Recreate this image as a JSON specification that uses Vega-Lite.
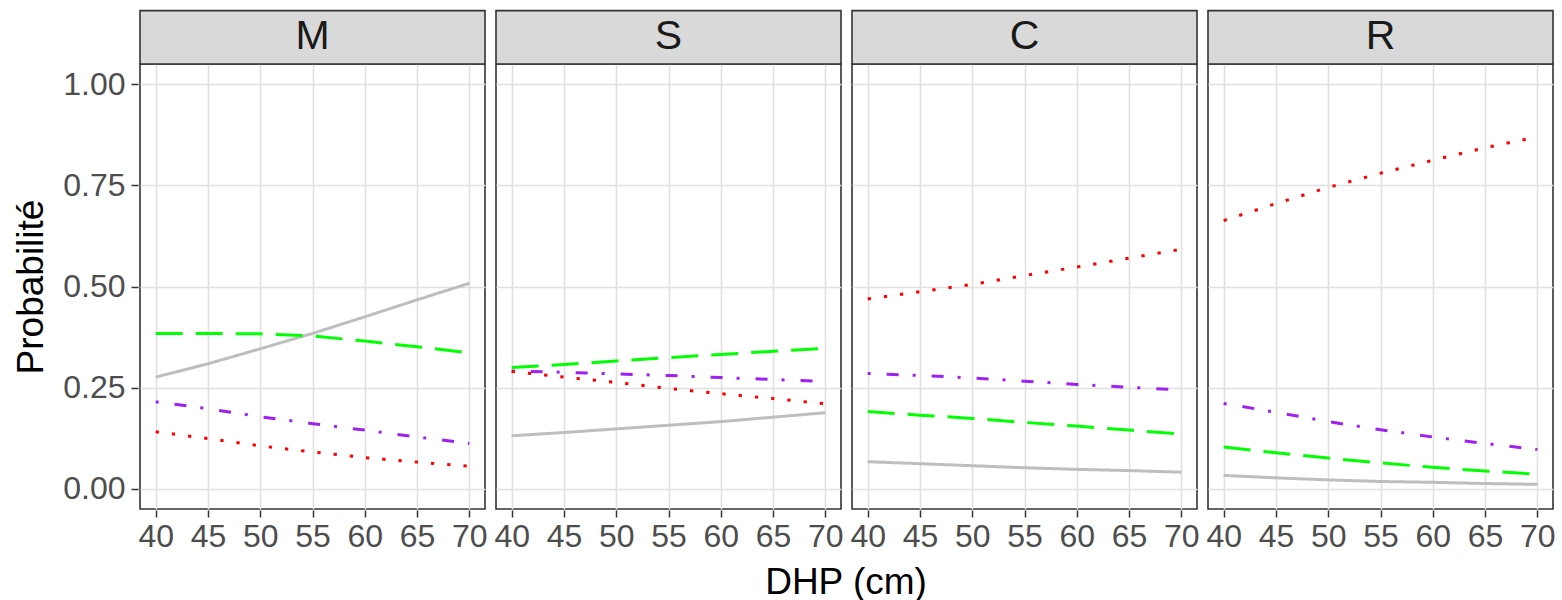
{
  "$schema": "https://vega.github.io/schema/vega-lite/v6.json",
  "padding": {"left": 12, "top": 9, "right": 8, "bottom": 4},
  "background": "white",
  "data": {"values": [
    {"panel":"M","series":"grey","dhp":40,"p":0.276},{"panel":"M","series":"grey","dhp":45,"p":0.309},{"panel":"M","series":"grey","dhp":50,"p":0.346},{"panel":"M","series":"grey","dhp":55,"p":0.384},{"panel":"M","series":"grey","dhp":60,"p":0.425},{"panel":"M","series":"grey","dhp":65,"p":0.467},{"panel":"M","series":"grey","dhp":70,"p":0.508},
    {"panel":"M","series":"green","dhp":40,"p":0.384},{"panel":"M","series":"green","dhp":45,"p":0.384},{"panel":"M","series":"green","dhp":50,"p":0.383},{"panel":"M","series":"green","dhp":55,"p":0.378},{"panel":"M","series":"green","dhp":60,"p":0.365},{"panel":"M","series":"green","dhp":65,"p":0.351},{"panel":"M","series":"green","dhp":70,"p":0.336},
    {"panel":"M","series":"purple","dhp":40,"p":0.215},{"panel":"M","series":"purple","dhp":45,"p":0.198},{"panel":"M","series":"purple","dhp":50,"p":0.178},{"panel":"M","series":"purple","dhp":55,"p":0.161},{"panel":"M","series":"purple","dhp":60,"p":0.145},{"panel":"M","series":"purple","dhp":65,"p":0.128},{"panel":"M","series":"purple","dhp":70,"p":0.112},
    {"panel":"M","series":"red","dhp":40,"p":0.141},{"panel":"M","series":"red","dhp":45,"p":0.124},{"panel":"M","series":"red","dhp":50,"p":0.106},{"panel":"M","series":"red","dhp":55,"p":0.091},{"panel":"M","series":"red","dhp":60,"p":0.077},{"panel":"M","series":"red","dhp":65,"p":0.066},{"panel":"M","series":"red","dhp":70,"p":0.056},
    {"panel":"S","series":"grey","dhp":40,"p":0.131},{"panel":"S","series":"grey","dhp":45,"p":0.139},{"panel":"S","series":"grey","dhp":50,"p":0.148},{"panel":"S","series":"grey","dhp":55,"p":0.157},{"panel":"S","series":"grey","dhp":60,"p":0.166},{"panel":"S","series":"grey","dhp":65,"p":0.177},{"panel":"S","series":"grey","dhp":70,"p":0.188},
    {"panel":"S","series":"green","dhp":40,"p":0.300},{"panel":"S","series":"green","dhp":45,"p":0.307},{"panel":"S","series":"green","dhp":50,"p":0.316},{"panel":"S","series":"green","dhp":55,"p":0.324},{"panel":"S","series":"green","dhp":60,"p":0.332},{"panel":"S","series":"green","dhp":65,"p":0.340},{"panel":"S","series":"green","dhp":70,"p":0.347},
    {"panel":"S","series":"purple","dhp":40,"p":0.291},{"panel":"S","series":"purple","dhp":45,"p":0.288},{"panel":"S","series":"purple","dhp":50,"p":0.284},{"panel":"S","series":"purple","dhp":55,"p":0.280},{"panel":"S","series":"purple","dhp":60,"p":0.275},{"panel":"S","series":"purple","dhp":65,"p":0.270},{"panel":"S","series":"purple","dhp":70,"p":0.265},
    {"panel":"S","series":"red","dhp":40,"p":0.290},{"panel":"S","series":"red","dhp":45,"p":0.276},{"panel":"S","series":"red","dhp":50,"p":0.263},{"panel":"S","series":"red","dhp":55,"p":0.248},{"panel":"S","series":"red","dhp":60,"p":0.235},{"panel":"S","series":"red","dhp":65,"p":0.223},{"panel":"S","series":"red","dhp":70,"p":0.210},
    {"panel":"C","series":"grey","dhp":40,"p":0.067},{"panel":"C","series":"grey","dhp":45,"p":0.062},{"panel":"C","series":"grey","dhp":50,"p":0.057},{"panel":"C","series":"grey","dhp":55,"p":0.052},{"panel":"C","series":"grey","dhp":60,"p":0.048},{"panel":"C","series":"grey","dhp":65,"p":0.045},{"panel":"C","series":"grey","dhp":70,"p":0.041},
    {"panel":"C","series":"green","dhp":40,"p":0.191},{"panel":"C","series":"green","dhp":45,"p":0.182},{"panel":"C","series":"green","dhp":50,"p":0.174},{"panel":"C","series":"green","dhp":55,"p":0.164},{"panel":"C","series":"green","dhp":60,"p":0.155},{"panel":"C","series":"green","dhp":65,"p":0.145},{"panel":"C","series":"green","dhp":70,"p":0.135},
    {"panel":"C","series":"purple","dhp":40,"p":0.285},{"panel":"C","series":"purple","dhp":45,"p":0.280},{"panel":"C","series":"purple","dhp":50,"p":0.274},{"panel":"C","series":"purple","dhp":55,"p":0.266},{"panel":"C","series":"purple","dhp":60,"p":0.258},{"panel":"C","series":"purple","dhp":65,"p":0.251},{"panel":"C","series":"purple","dhp":70,"p":0.244},
    {"panel":"C","series":"red","dhp":40,"p":0.469},{"panel":"C","series":"red","dhp":45,"p":0.487},{"panel":"C","series":"red","dhp":50,"p":0.505},{"panel":"C","series":"red","dhp":55,"p":0.527},{"panel":"C","series":"red","dhp":60,"p":0.548},{"panel":"C","series":"red","dhp":65,"p":0.570},{"panel":"C","series":"red","dhp":70,"p":0.592},
    {"panel":"R","series":"grey","dhp":40,"p":0.033},{"panel":"R","series":"grey","dhp":45,"p":0.027},{"panel":"R","series":"grey","dhp":50,"p":0.022},{"panel":"R","series":"grey","dhp":55,"p":0.018},{"panel":"R","series":"grey","dhp":60,"p":0.016},{"panel":"R","series":"grey","dhp":65,"p":0.013},{"panel":"R","series":"grey","dhp":70,"p":0.011},
    {"panel":"R","series":"green","dhp":40,"p":0.103},{"panel":"R","series":"green","dhp":45,"p":0.089},{"panel":"R","series":"green","dhp":50,"p":0.076},{"panel":"R","series":"green","dhp":55,"p":0.064},{"panel":"R","series":"green","dhp":60,"p":0.053},{"panel":"R","series":"green","dhp":65,"p":0.044},{"panel":"R","series":"green","dhp":70,"p":0.036},
    {"panel":"R","series":"purple","dhp":40,"p":0.211},{"panel":"R","series":"purple","dhp":45,"p":0.189},{"panel":"R","series":"purple","dhp":50,"p":0.166},{"panel":"R","series":"purple","dhp":55,"p":0.146},{"panel":"R","series":"purple","dhp":60,"p":0.128},{"panel":"R","series":"purple","dhp":65,"p":0.112},{"panel":"R","series":"purple","dhp":70,"p":0.097},
    {"panel":"R","series":"red","dhp":40,"p":0.663},{"panel":"R","series":"red","dhp":45,"p":0.705},{"panel":"R","series":"red","dhp":50,"p":0.745},{"panel":"R","series":"red","dhp":55,"p":0.780},{"panel":"R","series":"red","dhp":60,"p":0.812},{"panel":"R","series":"red","dhp":65,"p":0.843},{"panel":"R","series":"red","dhp":70,"p":0.870}
  ]},
  "facet": {
    "column": {
      "field": "panel", "type": "nominal", "sort": ["M", "S", "C", "R"],
      "title": "DHP (cm)",
      "header": {
        "labels": false, "titleOrient": "bottom",
        "titleFont": "Liberation Sans", "titleFontSize": 37, "titleColor": "black",
        "titleFontWeight": "normal", "titlePadding": 3
      }
    }
  },
  "spacing": 7,
  "spec": {
    "width": 345,
    "height": 445,
    "layer": [
      {
        "mark": {"type": "line", "strokeWidth": 3, "strokeCap": "butt", "clip": true},
        "encoding": {
          "x": {"field": "dhp", "type": "quantitative", "scale": {"domain": [38.5, 71.5], "nice": false, "zero": false},
                "axis": {"values": [40, 45, 50, 55, 60, 65, 70], "title": null}},
          "y": {"field": "p", "type": "quantitative", "scale": {"domain": [-0.05, 1.05], "nice": false, "zero": false},
                "axis": {"values": [0, 0.25, 0.5, 0.75, 1], "format": ".2f", "title": "Probabilité"}},
          "color": {"field": "series", "type": "nominal",
                    "scale": {"domain": ["grey", "green", "purple", "red"], "range": ["#BEBEBE", "#00FF00", "#A020F0", "#FF0000"]},
                    "legend": null},
          "strokeDash": {"field": "series", "type": "nominal",
                    "scale": {"domain": ["grey", "green", "purple", "red"], "range": [[1, 0], [27, 13], [3, 16, 12, 14], [3.3, 13]]},
                    "legend": null},
          "order": {"field": "dhp", "type": "quantitative"}
        }
      },
      {
        "transform": [{"filter": "datum.series == 'grey' && datum.dhp == 40"}],
        "mark": {"type": "rect", "fill": "#D9D9D9", "stroke": "#333333", "strokeWidth": 1.6, "clip": false},
        "encoding": {
          "x": {"datum": 38.5}, "x2": {"datum": 71.5},
          "y": {"datum": 1.05}, "y2": {"datum": 1.182}
        }
      },
      {
        "transform": [{"filter": "datum.series == 'grey' && datum.dhp == 40"}],
        "mark": {"type": "text", "font": "Liberation Sans", "fontSize": 41, "color": "#1A1A1A", "baseline": "middle", "align": "center", "clip": false},
        "encoding": {
          "x": {"datum": 55}, "y": {"datum": 1.116},
          "text": {"field": "panel"}
        }
      }
    ]
  },
  "config": {
    "font": "Liberation Sans",
    "view": {"stroke": "#333333", "strokeWidth": 1.6},
    "axis": {
      "labelFont": "Liberation Sans", "labelFontSize": 32, "labelColor": "#4D4D4D",
      "titleFont": "Liberation Sans", "titleFontSize": 37, "titleColor": "black", "titleFontWeight": "normal",
      "tickColor": "#333333", "tickSize": 7, "tickWidth": 1.5,
      "gridColor": "#E0E0E0", "gridWidth": 1.6,
      "domain": false, "labelFlush": false, "labelOverlap": false
    },
    "axisX": {"labelPadding": 4},
    "axisY": {"labelPadding": 6, "titlePadding": 12}
  }
}
